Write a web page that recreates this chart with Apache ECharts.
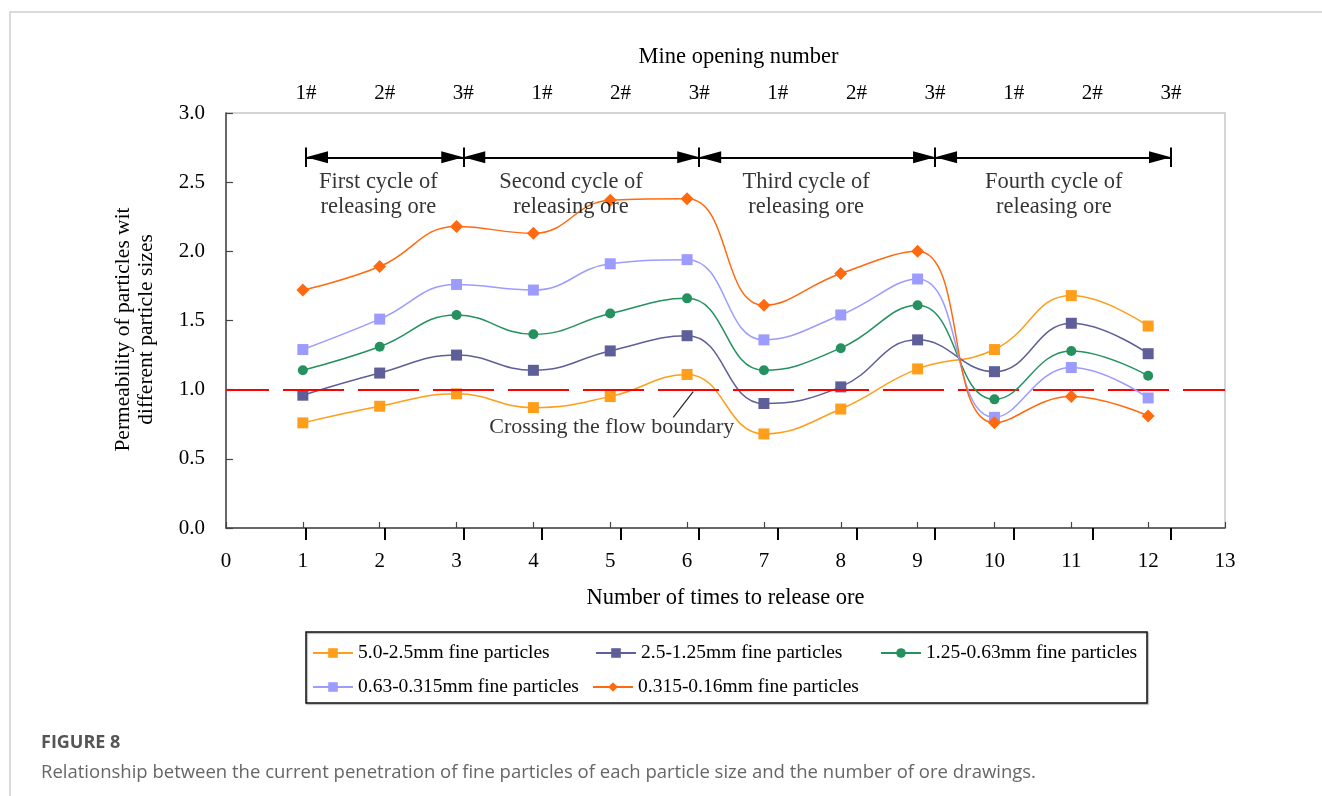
<!DOCTYPE html>
<html>
<head>
<meta charset="utf-8">
<script src="https://cdn.jsdelivr.net/npm/echarts@6/dist/echarts.min.js"></script>
<style>
html,body{margin:0;padding:0;background:#fff;}
#main{width:1322px;height:796px;}
</style>
</head>
<body>
<div id="main"></div>
<script>
// ---- data ----
var releaseTimes = [1, 2, 3, 4, 5, 6, 7, 8, 9, 10, 11, 12];
var mineOpeningLabels = ['1#', '2#', '3#', '1#', '2#', '3#', '1#', '2#', '3#', '1#', '2#', '3#'];
var seriesNames = [
  '5.0-2.5mm fine particles',
  '2.5-1.25mm fine particles',
  '1.25-0.63mm fine particles',
  '0.63-0.315mm fine particles',
  '0.315-0.16mm fine particles'
];
var s5_0_2_5 = [0.76, 0.88, 0.97, 0.87, 0.95, 1.11, 0.68, 0.86, 1.15, 1.29, 1.68, 1.46];
var s2_5_1_25 = [0.96, 1.12, 1.25, 1.14, 1.28, 1.39, 0.90, 1.02, 1.36, 1.13, 1.48, 1.26];
var s1_25_0_63 = [1.14, 1.31, 1.54, 1.40, 1.55, 1.66, 1.14, 1.30, 1.61, 0.93, 1.28, 1.10];
var s0_63_0_315 = [1.29, 1.51, 1.76, 1.72, 1.91, 1.94, 1.36, 1.54, 1.80, 0.80, 1.16, 0.94];
var s0_315_0_16 = [1.72, 1.89, 2.18, 2.13, 2.37, 2.38, 1.61, 1.84, 2.00, 0.76, 0.95, 0.81];
var yTickLabels = ['0.0', '0.5', '1.0', '1.5', '2.0', '2.5', '3.0'];
// cycle boundaries (in mine-opening index)
var cycleBounds = [1, 3, 6, 9, 12];
var cycleNames = ['First cycle of\nreleasing ore', 'Second cycle of\nreleasing ore', 'Third cycle of\nreleasing ore', 'Fourth cycle of\nreleasing ore'];
var cycleLabelX = [1.92, 4.37, 7.36, 10.51];
var arrowLevel = 2.68;
var barLow = 2.61, barHigh = 2.75;
var cycleLabelY = 2.41;
var flowBoundary = 1.0;
var crossingLabel = 'Crossing the flow boundary';
var crossingLabelPos = [5.02, 0.73];
var leaderFrom = [5.82, 0.80];
var leaderTo = [6.08, 0.985];

var allSeries = [s5_0_2_5, s2_5_1_25, s1_25_0_63, s0_63_0_315, s0_315_0_16];
var colors = ['#FF9E1B', '#5E5E99', '#24915F', '#9C9CFF', '#FF6A10'];
var symbols = ['rect', 'rect', 'circle', 'rect', 'diamond'];
var symSizes = [11, 11, 10, 11, 13];

var serif = 'Liberation Serif';

var chart = echarts.init(document.getElementById('main'), null, {renderer: 'canvas'});

var series = allSeries.map(function (vals, i) {
  return {
    name: seriesNames[i],
    type: 'line',
    xAxisIndex: 0, yAxisIndex: 0,
    smooth: 0.45,
    data: releaseTimes.map(function (x, j) { return [x, vals[j]]; }),
    symbol: symbols[i],
    symbolSize: symSizes[i],
    showSymbol: true,
    itemStyle: {color: colors[i]},
    lineStyle: {color: colors[i], width: 1.5},
    emphasis: {disabled: true},
    z: 3 + i
  };
});

// Arrows and bars on the top (mine opening) grid
var arrowLines = [];
for (var k = 0; k < cycleBounds.length - 1; k++) {
  arrowLines.push([{coord: [cycleBounds[k], arrowLevel]}, {coord: [cycleBounds[k + 1], arrowLevel]}]);
}
var barLines = cycleBounds.map(function (b) {
  return [{coord: [b, barLow], symbol: 'none'}, {coord: [b, barHigh], symbol: 'none'}];
});

series.push({
  name: 'cycles',
  type: 'line',
  xAxisIndex: 1, yAxisIndex: 1,
  data: [],
  silent: true,
  markLine: {
    silent: true,
    animation: false,
    symbol: ['triangle', 'triangle'],
    symbolSize: [12, 22],
    symbolOffset: [[0, 11], [0, 11]],
    label: {show: false},
    lineStyle: {color: '#000', width: 2, type: 'solid'},
    emphasis: {disabled: true},
    data: arrowLines.concat(barLines)
  },
  z: 10
});

series.push({
  name: 'cycleText',
  type: 'scatter',
  xAxisIndex: 1, yAxisIndex: 1,
  symbolSize: 0,
  silent: true,
  data: cycleNames.map(function (t, i) { return {value: [cycleLabelX[i], cycleLabelY], name: t}; }),
  label: {
    show: true, position: 'inside', formatter: function (p) { return p.name; },
    fontFamily: serif, fontSize: 22.5, color: '#000', lineHeight: 25, align: 'center', verticalAlign: 'middle'
  },
  z: 12
});

series.push({
  name: 'boundary',
  type: 'line',
  xAxisIndex: 0, yAxisIndex: 0,
  data: [],
  silent: true,
  markLine: {
    silent: true,
    animation: false,
    symbol: 'none',
    label: {show: false},
    emphasis: {disabled: true},
    data: [
      {yAxis: flowBoundary, lineStyle: {color: '#FF0000', width: 2, type: [61, 14], dashOffset: 18}},
      [{coord: leaderFrom, lineStyle: {color: '#222', width: 1.2, type: 'solid'}}, {coord: leaderTo}]
    ]
  },
  z: 20
});

series.push({
  name: 'crossText',
  type: 'scatter',
  xAxisIndex: 0, yAxisIndex: 0,
  symbolSize: 0,
  silent: true,
  data: [{value: crossingLabelPos, name: crossingLabel}],
  label: {
    show: true, position: 'inside', formatter: function (p) { return p.name; },
    fontFamily: serif, fontSize: 22, color: '#000', align: 'center', verticalAlign: 'middle'
  },
  z: 21
});

var legendPos = [[312, 643], [595, 643], [880, 643], [312, 677], [592, 677]];
var legends = seriesNames.map(function (n, i) {
  return {
    data: [n],
    left: legendPos[i][0], top: legendPos[i][1],
    padding: 0,
    itemWidth: 40, itemHeight: 12,
    selectedMode: false,
    textStyle: {fontFamily: serif, fontSize: 19.5, color: '#000'}
  };
});

var option = {
  backgroundColor: '#fff',
  animation: false,
  title: [
    {text: 'FIGURE 8', left: 36, top: 729, textStyle: {fontFamily: 'Open Sans', fontWeight: 'bold', fontSize: 18, color: '#555'}},
    {text: 'Relationship between the current penetration of fine particles of each particle size and the number of ore drawings.', left: 36, top: 758, textStyle: {fontFamily: 'Open Sans', fontWeight: 'normal', fontSize: 18.5, color: '#666'}}
  ],
  legend: legends,
  graphic: [
    {type: 'rect', shape: {x: 10, y: 12, width: 1400, height: 900}, style: {fill: 'none', stroke: '#d0d0d0', lineWidth: 1.5}, silent: true, z: -10},
    {type: 'rect', shape: {x: 306, y: 632, width: 841, height: 71}, style: {fill: 'none', stroke: '#111', lineWidth: 1.5, shadowColor: 'rgba(0,0,0,0.35)', shadowOffsetX: 1, shadowOffsetY: 1, shadowBlur: 1}, silent: true, z: -5}
  ],
  grid: [
    {left: 226, top: 113, width: 999, height: 415, show: true, borderColor: '#c8c8c8', borderWidth: 1.5, backgroundColor: 'transparent'},
    {left: 306, top: 113, width: 865, height: 415, show: false}
  ],
  xAxis: [
    {
      type: 'value', gridIndex: 0, min: 0, max: 13, interval: 1,
      name: 'Number of times to release ore', nameLocation: 'middle', nameGap: 59,
      nameTextStyle: {fontFamily: serif, fontSize: 22.5, color: '#000'},
      axisLine: {show: true, onZero: false, lineStyle: {color: '#444', width: 1.5}},
      axisTick: {show: true, inside: true, length: 6, lineStyle: {color: '#444', width: 1.2}},
      axisLabel: {margin: 23, fontFamily: serif, fontSize: 21, color: '#000'},
      splitLine: {show: false}
    },
    {
      type: 'value', gridIndex: 1, position: 'top', min: 1, max: 12, interval: 1,
      name: 'Mine opening number', nameLocation: 'middle', nameGap: 44,
      nameTextStyle: {fontFamily: serif, fontSize: 22.5, color: '#000'},
      axisLine: {show: false},
      axisTick: {show: true, inside: true, length: 12, lineStyle: {color: '#000', width: 2}},
      axisLabel: {margin: 9, fontFamily: serif, fontSize: 21, color: '#000',
        formatter: function (v) { var i = Math.round(v) - 1; return mineOpeningLabels[i] || ''; }},
      splitLine: {show: false}
    }
  ],
  yAxis: [
    {
      type: 'value', gridIndex: 0, min: 0, max: 3, interval: 0.5,
      name: 'Permeability of particles wit\ndifferent particle sizes', nameLocation: 'middle', nameGap: 68, nameRotate: 90,
      nameTextStyle: {fontFamily: serif, fontSize: 21.5, color: '#000', lineHeight: 23, padding: [0, 18, 0, 0]},
      axisLine: {show: true, onZero: false, lineStyle: {color: '#444', width: 1.5}},
      axisTick: {show: true, inside: true, length: 7, lineStyle: {color: '#444', width: 1.2}},
      axisLabel: {margin: 21, fontFamily: serif, fontSize: 21, color: '#000',
        formatter: function (v) { var i = Math.round(v / 0.5); return yTickLabels[i]; }},
      splitLine: {show: false}
    },
    {type: 'value', gridIndex: 1, min: 0, max: 3, show: false}
  ],
  series: series
};

chart.setOption(option);
</script>
</body>
</html>
